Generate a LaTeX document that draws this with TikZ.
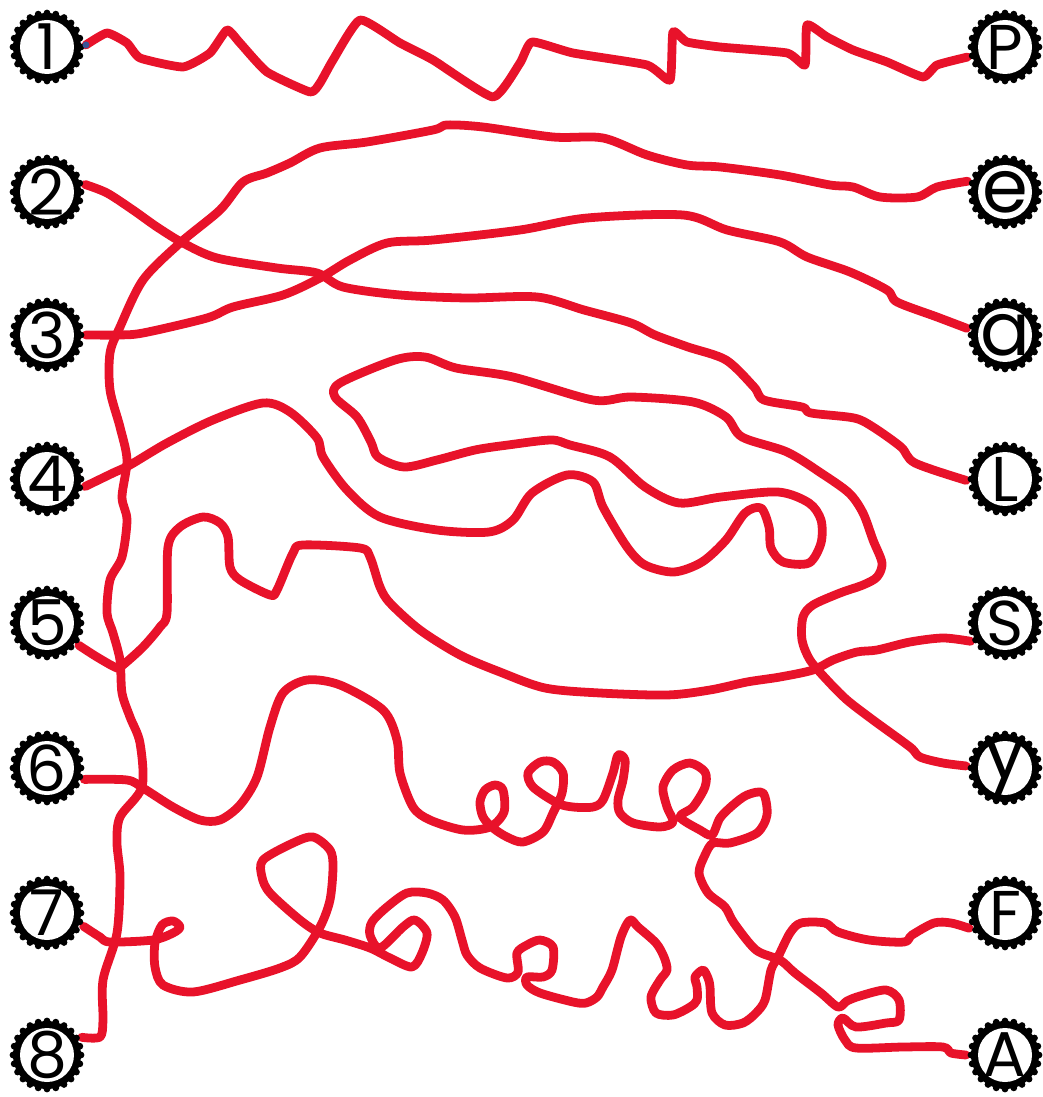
\documentclass[tikz,border=0pt]{standalone}
\usepackage{fontspec}
\setmainfont{Poppins}
\usetikzlibrary{backgrounds}
\definecolor{wireRed}{RGB}{232,18,42}
\definecolor{inkBlue}{RGB}{58,84,150}
\newcommand{\badgetext}[1]{\makebox[0pt]{\smash{\raisebox{\dimexpr(\depth-\height)/2\relax}{#1}}}}

\begin{document}
\begin{tikzpicture}[x=0.02cm, y=-0.02cm,
badge/.style={circle, fill=white, inner sep=0pt, minimum size=1.08cm,
outer sep=0.24cm, font=\fontsize{36}{36}\selectfont},
lower/.style={font=\fontsize{42}{42}\selectfont},
wire/.style={line width=5pt, color=wireRed, line cap=round, line join=round}]

\useasboundingbox (0,0) rectangle (1042,1097);

% left column
\node[badge] (n1) at (47,47)   {\badgetext{1}};
\node[badge] (n2) at (47,192)  {\badgetext{2}};
\node[badge] (n3) at (47,335)  {\badgetext{3}};
\node[badge] (n4) at (47,479)  {\badgetext{4}};
\node[badge] (n5) at (47,623)  {\badgetext{5}};
\node[badge] (n6) at (47,768)  {\badgetext{6}};
\node[badge] (n7) at (47,913)  {\badgetext{7}};
\node[badge] (n8) at (47,1055) {\badgetext{8}};

% right column
\node[badge] (nP) at (1005,47)         {\badgetext{P}};
\node[badge, lower] (ne) at (1005,192) {\badgetext{e}};
\node[badge, lower] (na) at (1005,335) {\badgetext{a}};
\node[badge] (nL) at (1005,479)        {\badgetext{L}};
\node[badge] (nS) at (1005,623)        {\badgetext{S}};
\node[badge, lower] (ny) at (1005,768) {\badgetext{y}};
\node[badge] (nF) at (1005,913)        {\badgetext{F}};
\node[badge] (nA) at (1005,1055)       {\badgetext{A}};

\begin{scope}[on background layer]
% 1 - P
\draw[wire] plot[smooth, tension=0.3] coordinates {(n1.3) (107,33) (127,43)
  (140,58) (183,67) (210,53) (227,30) (240,43) (267,72) (310,92) (320,83)
  (333,60) (360,20) (400,43) (433,60) (493,97) (520,63) (532,42) (573,53)
  (647,65) (670,80) (673,32) (687,42) (720,47) (787,53) (805,65) (807,25)
  (827,37) (853,50) (887,62) (923,77) (937,65) (nP.195)};
% 2 - L
\draw[wire] plot[smooth, tension=0.5] coordinates {(n2.11) (107,193) (133,210)
  (157,227) (183,243) (217,258) (277,268) (317,273) (343,287) (400,295)
  (467,298) (537,297) (584,310) (631,323) (655,335) (688,347) (726,360)
  (754,387) (764,400) (802,407) (811,413) (854,418) (873,427) (901,447)
  (915,463) (nL.182)};
% 3 - a
\draw[wire] plot[smooth, tension=0.5] coordinates {(n3.0) (117,335) (143,333)
  (207,318) (233,307) (283,295) (320,278) (350,260) (387,243) (433,240)
  (520,230) (587,218) (683,215) (727,230) (780,242) (807,257) (850,272)
  (887,290) (897,302) (937,317) (na.170)};
% e - 8
\draw[wire] plot[smooth, tension=0.5] coordinates {(ne.164) (937,187) (917,197)
  (880,197) (853,187) (830,185) (780,175) (720,167) (687,165) (647,155)
  (603,138) (553,137) (483,127) (447,125) (433,130) (367,142) (320,148)
  (290,163) (267,173) (243,182) (220,210) (180,243) (143,280) (120,327)
  (110,353) (110,390) (120,427) (127,460) (122,497) (127,520) (122,557)
  (110,580) (107,613) (113,633) (120,660) (122,693) (130,717) (140,743)
  (142,787) (120,817) (117,843) (120,877) (117,933) (103,980) (103,1020)
  (100,1037) (n8.27)};
% 4 - y
\draw[wire] plot[smooth, tension=0.5] coordinates {(n4.349) (113,473) (130,465)
  (167,443) (213,420) (263,403) (290,412) (317,438) (323,457) (347,490)
  (380,517) (437,530) (489,532) (513,520) (532,493) (567,475) (593,482)
  (603,507) (627,547) (645,565) (674,572) (702,562) (726,540) (745,513)
  (761,508) (769,527) (771,548) (783,562) (809,563) (821,543) (821,520)
  (809,503) (778,492) (721,497) (679,503) (645,487) (610,457) (570,445)
  (551,440) (508,445) (475,450) (437,460) (404,467) (378,457) (371,442)
  (357,417) (335,397) (340,383) (395,360) (425,357) (456,368) (513,377)
  (593,400) (631,397) (693,402) (726,417) (742,437) (787,452) (821,473)
  (849,493) (863,513) (873,540) (882,563) (877,577) (863,585) (840,593)
  (813,605) (803,617) (802,640) (810,660) (827,680) (847,700) (873,720)
  (910,747) (920,757) (943,763) (ny.177)};
% 5 - S
\draw[wire] plot[smooth, tension=0.5] coordinates {(n5.325) (97,657) (117,668)
  (123,665) (143,647) (160,627) (167,613) (168,547) (180,527) (203,517)
  (220,523) (228,537) (230,567) (240,580) (270,595) (277,590) (293,553)
  (303,545) (360,548) (370,557) (380,587) (390,603) (420,630) (460,655)
  (500,672) (545,688) (600,693) (667,695) (710,690) (747,682) (780,677)
  (813,670) (833,660) (857,652) (877,650) (910,642) (943,638) (nS.208)};
% 6 - A
\draw[wire] plot[smooth, tension=0.5] coordinates {(n6.343) (127,780) (143,788)
  (173,807) (200,820) (220,820) (240,805) (257,777) (270,727) (283,693)
  (307,680) (340,685) (383,710) (397,740) (400,773) (413,807) (430,820)
  (463,830) (490,827) (504,812) (503,790) (495,785) (485,790) (480,802)
  (483,817) (493,828) (507,837) (523,842) (543,832) (553,813) (562,793)
  (563,773) (553,762) (540,762) (528,773) (533,787) (557,803) (573,807)
  (593,807) (603,800) (613,773) (618,755) (625,760) (623,780) (618,800)
  (620,813) (633,823) (660,827) (673,822) (667,807) (663,787) (673,770)
  (690,763) (705,772) (705,787) (693,807) (680,817) (700,830) (712,835)
  (720,818) (733,805) (747,795) (763,793) (767,815) (757,833) (730,843)
  (713,843) (705,855) (699,873) (708,893) (725,907) (734,923) (756,950)
  (780,960) (795,973) (821,993) (838,1007) (847,1001) (860,996) (886,990)
  (899,1000) (899,1020) (886,1023) (856,1027) (843,1018) (838,1025)
  (845,1040) (856,1048) (903,1047) (943,1047) (951,1053) (nA.180)};
% 7 - F
\draw[wire] plot[smooth, tension=0.5] coordinates {(n7.340) (100,937) (110,942)
  (153,940) (173,933) (180,927) (173,921) (162,925) (155,943) (155,967)
  (163,985) (193,992) (240,980) (280,968) (300,957) (320,927) (330,900)
  (333,867) (330,850) (313,837) (293,843) (263,860) (262,877) (270,893)
  (300,920) (320,933) (345,940) (370,948) (390,958) (412,967) (422,953)
  (427,933) (415,920) (403,927) (380,948) (370,935) (372,922) (387,907)
  (407,893) (427,893) (443,900) (455,917) (462,940) (467,955) (480,968)
  (507,978) (518,972) (517,953) (527,945) (540,940) (553,947) (552,970)
  (543,977) (527,977) (527,985) (540,993) (573,1002) (586,1003) (597,997)
  (603,987) (612,970) (621,937) (630,920) (638,927) (656,943) (664,957)
  (667,970) (660,980) (651,997) (656,1013) (673,1015) (690,1007) (697,1000)
  (697,987) (695,977) (703,970) (708,978) (710,987) (712,1013) (725,1025)
  (743,1023) (756,1013) (765,1000) (771,970) (778,957) (790,933) (801,923)
  (825,923) (838,932) (869,940) (904,942) (912,935) (934,923) (951,923)
  (nF.203)};

% scalloped rims
\foreach \b in {n1,n2,n3,n4,n5,n6,n7,n8,nP,ne,na,nL,nS,ny,nF,nA} {
  \fill (\b) circle (34);
  \foreach \a in {0,15,...,345} \fill (\b) ++(\a:34) circle (3.4);
}
\end{scope}

\fill[inkBlue] (n1.3) circle (3.5);
\end{tikzpicture}
\end{document}
